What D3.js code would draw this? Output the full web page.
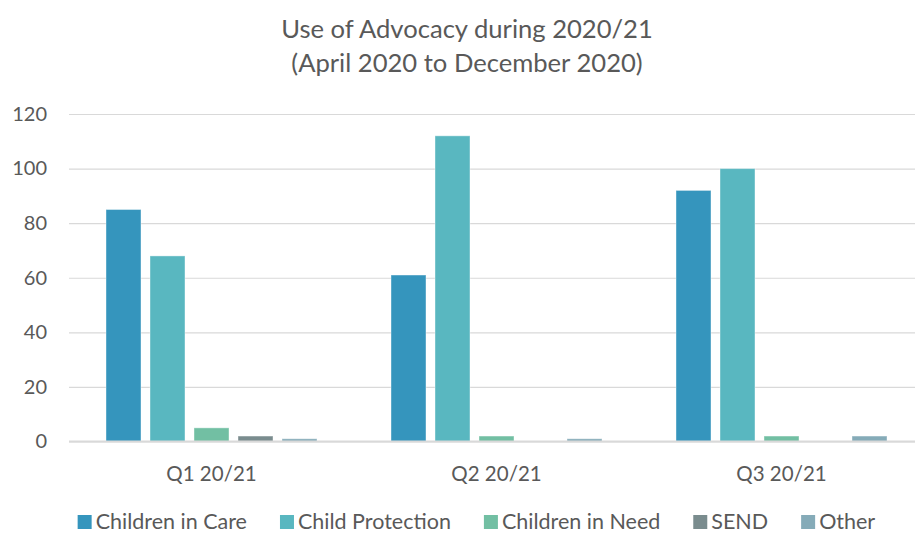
<!DOCTYPE html>
<html><head><meta charset="utf-8">
<script src="https://cdn.jsdelivr.net/npm/d3@7"></script>
<style>body{margin:0;background:#fff;overflow:hidden;} svg{display:block;font-family:Lato,"Open Sans",sans-serif;}</style>
</head><body><svg id="c" width="915" height="534"></svg>
<script>
const categories = ["Q1 20/21", "Q2 20/21", "Q3 20/21"];
const seriesNames = ["Children in Care", "Child Protection", "Children in Need", "SEND", "Other"];
const childrenInCare = [85, 61, 92];
const childProtection = [68, 112, 100];
const childrenInNeed = [5, 2, 2];
const send = [2, 0, 0];
const other = [1, 1, 2];
const yTicks = [0, 20, 40, 60, 80, 100, 120];
const colors = ["#3595bd", "#59b7c0", "#72bfa3", "#7a8c8e", "#85abb8"];
const titleLines = ["Use of Advocacy during 2020/21", "(April 2020 to December 2020)"];

const seriesValues = [childrenInCare, childProtection, childrenInNeed, send, other];
const svg = d3.select("#c");
const textColor = "#595959";
const mLeft = 69, mRight = 924, mTop = 114, mBottom = 441.5;

const x0 = d3.scaleBand().domain(categories).range([mLeft, mRight]).padding(0);
const x1 = d3.scaleBand().domain(seriesNames).range([0, x0.bandwidth()]).paddingInner(0.205).paddingOuter(0.841);
const y = d3.scaleLinear().domain([0, 120]).range([mBottom, mTop]);

// title
svg.append("g").selectAll("text").data(titleLines).join("text")
  .attr("x", 467).attr("y", (d, i) => 38 + i * 34)
  .attr("text-anchor", "middle").attr("fill", textColor)
  .attr("font-size", 25.6).text(d => d);

// gridlines
const yAxis = d3.axisLeft(y).tickValues(yTicks).tickSize(-(mRight - mLeft)).tickPadding(22);
const ga = svg.append("g").attr("transform", `translate(${mLeft},0)`).call(yAxis);
ga.select(".domain").remove();
ga.selectAll(".tick line").attr("stroke", "#d9d9d9").attr("stroke-width", 1.2);
ga.selectAll(".tick text").attr("fill", textColor).attr("font-size", 20).attr("font-family", "Lato,sans-serif");

// bars
const groups = svg.append("g").selectAll("g").data(categories).join("g")
  .attr("transform", d => `translate(${x0(d)},0)`);
groups.selectAll("rect").data((d, ci) => seriesNames.map((s, si) => ({s, si, v: seriesValues[si][ci]})))
  .join("rect")
  .attr("x", d => x1(d.s)).attr("width", x1.bandwidth())
  .attr("y", d => y(d.v)).attr("height", d => y(0) - y(d.v))
  .attr("fill", d => colors[d.si])
  .attr("stroke", "#ffffff").attr("stroke-opacity", 0.4).attr("stroke-width", 1);

// baseline
svg.append("line").attr("x1", mLeft).attr("x2", mRight).attr("y1", y(0)).attr("y2", y(0))
  .attr("stroke", "#d9d9d9").attr("stroke-width", 2);

// x axis labels
const xAxis = d3.axisBottom(x0).tickSize(0).tickPadding(25);
const gx = svg.append("g").attr("transform", `translate(0,${y(0)})`).call(xAxis);
gx.select(".domain").remove();
gx.selectAll(".tick text").attr("fill", textColor).attr("font-size", 20.5).attr("font-family", "Lato,sans-serif");

// legend
const lg = svg.append("g");
const items = lg.selectAll("g").data(seriesNames).join("g");
items.append("rect").attr("width", 14).attr("height", 14).attr("y", -14).attr("fill", (d, i) => colors[i]);
items.append("text").attr("x", 18).attr("y", 0).attr("fill", textColor).attr("font-size", 21.5).text(d => d);
let pos = 0;
const gap = 33;
items.each(function() {
  const w = this.getBBox().width;
  d3.select(this).attr("transform", `translate(${pos},529)`);
  pos += w + gap;
});
const total = pos - gap;
lg.attr("transform", `translate(${476.5 - total / 2},0)`);
</script></body></html>
